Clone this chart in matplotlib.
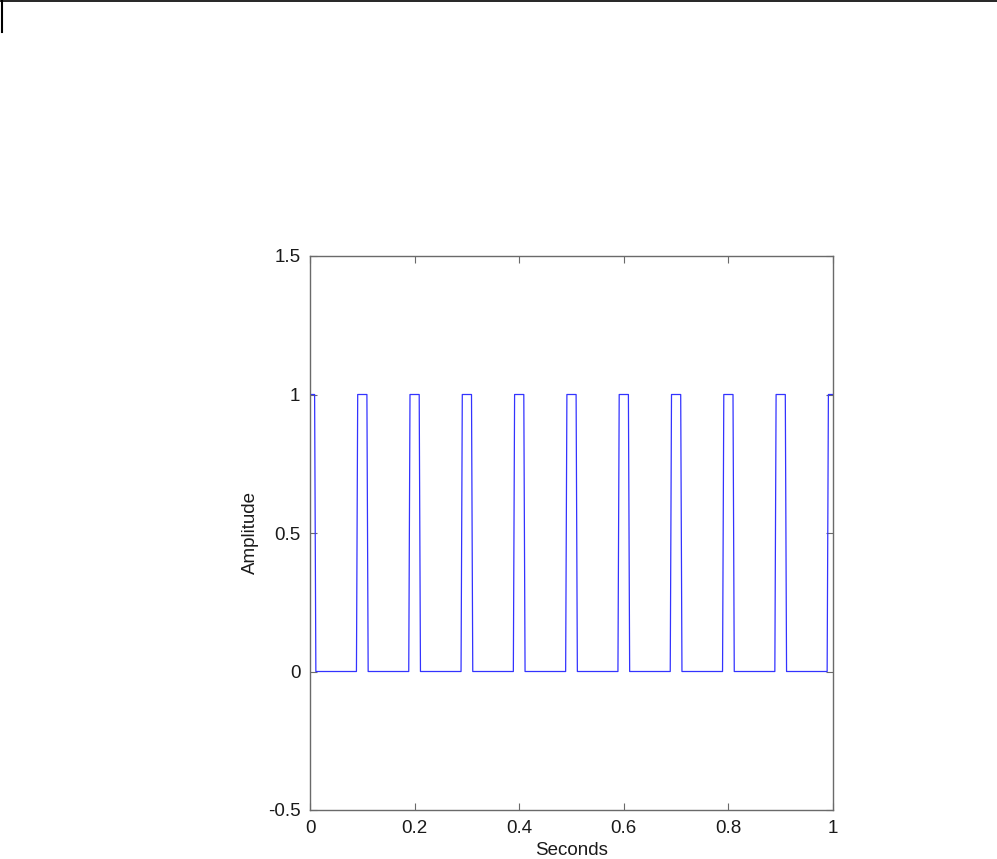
import matplotlib
matplotlib.use("Agg")
import matplotlib.pyplot as plt
from matplotlib.lines import Line2D

# pulse edges (seconds)
pulse_starts = [0.0, 0.09, 0.19, 0.29, 0.39, 0.49, 0.59, 0.69, 0.79, 0.89, 0.99]
pulse_ends = [0.01, 0.11, 0.21, 0.31, 0.41, 0.51, 0.61, 0.71, 0.81, 0.91, 1.0]
x_ticks = [0, 0.2, 0.4, 0.6, 0.8, 1]
x_ticklabels = ["0", "0.2", "0.4", "0.6", "0.8", "1"]
y_ticks = [-0.5, 0, 0.5, 1, 1.5]
y_ticklabels = ["-0.5", "0", "0.5", "1", "1.5"]

plt.rcParams['font.family'] = ['Liberation Sans', 'DejaVu Sans']

# build the step trace, edges pass through a half-amplitude sample
dt = 0.0012
t = []
y = []
for s, e in zip(pulse_starts, pulse_ends):
    if s == 0.0:
        t += [s]
        y += [1]
    else:
        t += [s - dt, s, s + dt]
        y += [0, 0.5, 1]
    if e >= 1.0:
        t += [e]
        y += [1]
    else:
        t += [e - dt, e, e + dt]
        y += [1, 0.5, 0]

fig = plt.figure(figsize=(9.97, 8.59), dpi=100)
ax = fig.add_axes([310 / 997, 1 - 810 / 859, 523 / 997, 554 / 859])
ax.plot(t, y, color=(0.2, 0.2, 1.0), linewidth=0.9)

ax.set_xlim(0, 1)
ax.set_ylim(-0.5, 1.5)
ax.set_xticks(x_ticks)
ax.set_xticklabels(x_ticklabels)
ax.set_yticks(y_ticks)
ax.set_yticklabels(y_ticklabels)
ax.tick_params(direction='in', top=True, right=True, length=5, width=0.8,
               color='#6a6a6a', labelsize=13.5, labelcolor='#1a1a1a')
ax.tick_params(axis='x', pad=7)
ax.tick_params(axis='y', pad=7)
for sp in ax.spines.values():
    sp.set_color('#6a6a6a')
    sp.set_linewidth(1.0)

ax.set_xlabel("Seconds", fontsize=13.5, color='#1a1a1a', labelpad=4)
ax.set_ylabel("Amplitude", fontsize=13.5, color='#1a1a1a', labelpad=6)

# page border marks at the top-left
fig.add_artist(Line2D([0, 1], [1 - 1 / 859, 1 - 1 / 859], transform=fig.transFigure,
                      color='black', linewidth=1.2))
fig.add_artist(Line2D([1.5 / 997, 1.5 / 997], [1, 1 - 32 / 859], transform=fig.transFigure,
                      color='black', linewidth=1.5))

fig.savefig("out.png", dpi=100)
